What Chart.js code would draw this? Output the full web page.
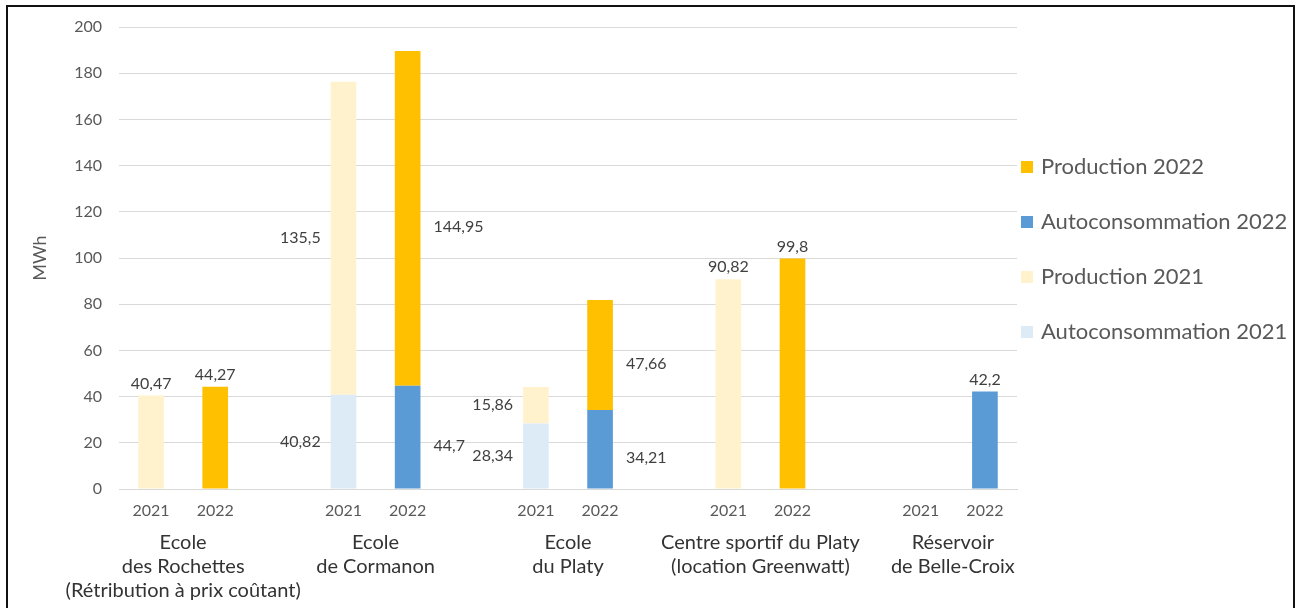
<!DOCTYPE html>
<html>
<head>
<meta charset="utf-8">
<script src="https://cdn.jsdelivr.net/npm/chart.js@4.4.1/dist/chart.umd.min.js"></script>
<style>
  html, body { margin: 0; padding: 0; background: #ffffff; overflow: hidden; }
  #wrap { position: relative; width: 1301px; height: 608px; }
  #frame { position: absolute; left: 6px; top: 5px; width: 1289px; height: 700px; border: 2px solid #111; box-sizing: border-box; pointer-events: none; }
</style>
</head>
<body>
<div id="wrap">
  <canvas id="c" width="1301" height="608"></canvas>
  <div id="frame"></div>
</div>
<script>
// ---- Data ----
const categories = ['2021', '2022', '', '2021', '2022', '', '2021', '2022', '', '2021', '2022', '', '2021', '2022'];
const groupNames = [
  ['Ecole', 'des Rochettes', '(Rétribution à prix coûtant)'],
  ['Ecole', 'de Cormanon'],
  ['Ecole', 'du Platy'],
  ['Centre sportif du Platy', '(location Greenwatt)'],
  ['Réservoir', 'de Belle-Croix']
];
const autoconsommation2021 = [null, null, null, 40.82, null, null, 28.34, null, null, null, null, null, null, null];
const production2021       = [40.47, null, null, 135.5, null, null, 15.86, null, null, 90.82, null, null, null, null];
const autoconsommation2022 = [null, null, null, null, 44.7, null, null, 34.21, null, null, null, null, null, 42.2];
const production2022       = [null, 44.27, null, null, 144.95, null, null, 47.66, null, null, 99.8, null, null, null];
const yTicks = [0, 20, 40, 60, 80, 100, 120, 140, 160, 180, 200];

// ---- Style ----
const FONT = 'Lato, "Liberation Sans", sans-serif';
const colors = {
  auto2021: '#DDEBF7',
  prod2021: '#FFF2CC',
  auto2022: '#5B9BD5',
  prod2022: '#FFC000'
};

function fmt(v) { return String(v).replace('.', ','); }

const dataLabelsPlugin = {
  id: 'dataLabels',
  afterDatasetsDraw(chart) {
    const ctx = chart.ctx;
    ctx.save();
    ctx.font = '16px ' + FONT;
    ctx.fillStyle = '#404040';
    const ds = chart.data.datasets;
    ds.forEach((d, di) => {
      const meta = chart.getDatasetMeta(di);
      d.data.forEach((v, i) => {
        if (v === null || v === undefined) return;
        const el = meta.data[i];
        const stackedCount = ds.filter(o => o.data[i] !== null && o.data[i] !== undefined).length;
        const half = el.width / 2;
        if (stackedCount > 1) {
          const midY = (el.y + el.base) / 2;
          ctx.textBaseline = 'middle';
          if (categories[i] === '2021') {
            ctx.textAlign = 'right';
            ctx.fillText(fmt(v), el.x - half - 10, midY);
          } else {
            ctx.textAlign = 'left';
            ctx.fillText(fmt(v), el.x + half + 13, midY + 9);
          }
        } else {
          ctx.textAlign = 'center';
          ctx.textBaseline = 'middle';
          ctx.fillText(fmt(v), el.x, el.y - 12);
        }
      });
    });
    ctx.restore();
  }
};

const groupLabelsPlugin = {
  id: 'groupLabels',
  afterDraw(chart) {
    const ctx = chart.ctx;
    const xs = chart.scales.x;
    const base = chart.chartArea.bottom;
    ctx.save();
    ctx.font = '20px ' + FONT;
    ctx.fillStyle = '#333333';
    ctx.textAlign = 'center';
    ctx.textBaseline = 'middle';
    groupNames.forEach((lines, g) => {
      const cx = (xs.getPixelForValue(g * 3) + xs.getPixelForValue(g * 3 + 1)) / 2;
      lines.forEach((t, li) => {
        ctx.fillText(t, cx, base + 54 + li * 24);
      });
    });
    ctx.restore();
  }
};

const legendPlugin = {
  id: 'customLegend',
  afterDraw(chart) {
    const ctx = chart.ctx;
    const left = chart.chartArea.right + 4;
    const order = chart.data.datasets.map((d, i) => i).reverse();
    ctx.save();
    ctx.font = '22px ' + FONT;
    ctx.textAlign = 'left';
    ctx.textBaseline = 'middle';
    order.forEach((di, k) => {
      const d = chart.data.datasets[di];
      const y = 167 + k * 55;
      ctx.fillStyle = d.backgroundColor;
      ctx.fillRect(left, y - 6, 12, 12);
      ctx.fillStyle = '#595959';
      ctx.fillText(d.label, left + 20, y);
    });
    ctx.restore();
  }
};

new Chart(document.getElementById('c'), {
  type: 'bar',
  data: {
    labels: categories,
    datasets: [
      { label: 'Autoconsommation 2021', data: autoconsommation2021, backgroundColor: colors.auto2021 },
      { label: 'Production 2021', data: production2021, backgroundColor: colors.prod2021 },
      { label: 'Autoconsommation 2022', data: autoconsommation2022, backgroundColor: colors.auto2022 },
      { label: 'Production 2022', data: production2022, backgroundColor: colors.prod2022 }
    ]
  },
  options: {
    responsive: false,
    animation: false,
    devicePixelRatio: 1,
    datasets: { bar: { barPercentage: 0.4, categoryPercentage: 1.0, skipNull: false } },
    layout: { padding: { top: 27, right: 284, left: 0, bottom: 0 } },
    plugins: { legend: { display: false }, tooltip: { enabled: false } },
    scales: {
      x: {
        stacked: true,
        grid: { display: false, drawTicks: false },
        border: { display: true, color: '#D9D9D9', width: 1 },
        ticks: { color: '#595959', font: { family: FONT, size: 16 }, padding: 12, autoSkip: false, maxRotation: 0 },
        afterFit(s) { s.height = 119; }
      },
      y: {
        stacked: true,
        min: 0, max: 200,
        afterBuildTicks(s) { s.ticks = yTicks.map(v => ({ value: v })); },
        grid: { color: '#D9D9D9', drawTicks: false },
        border: { display: false },
        ticks: { color: '#595959', font: { family: FONT, size: 16 }, padding: 17 },
        title: { display: true, text: 'MWh', color: '#595959', font: { family: FONT, size: 18 }, padding: { top: 29, bottom: 0 } },
        afterFit(s) { s.width = 119; }
      }
    }
  },
  plugins: [dataLabelsPlugin, groupLabelsPlugin, legendPlugin]
});
</script>
</body>
</html>
